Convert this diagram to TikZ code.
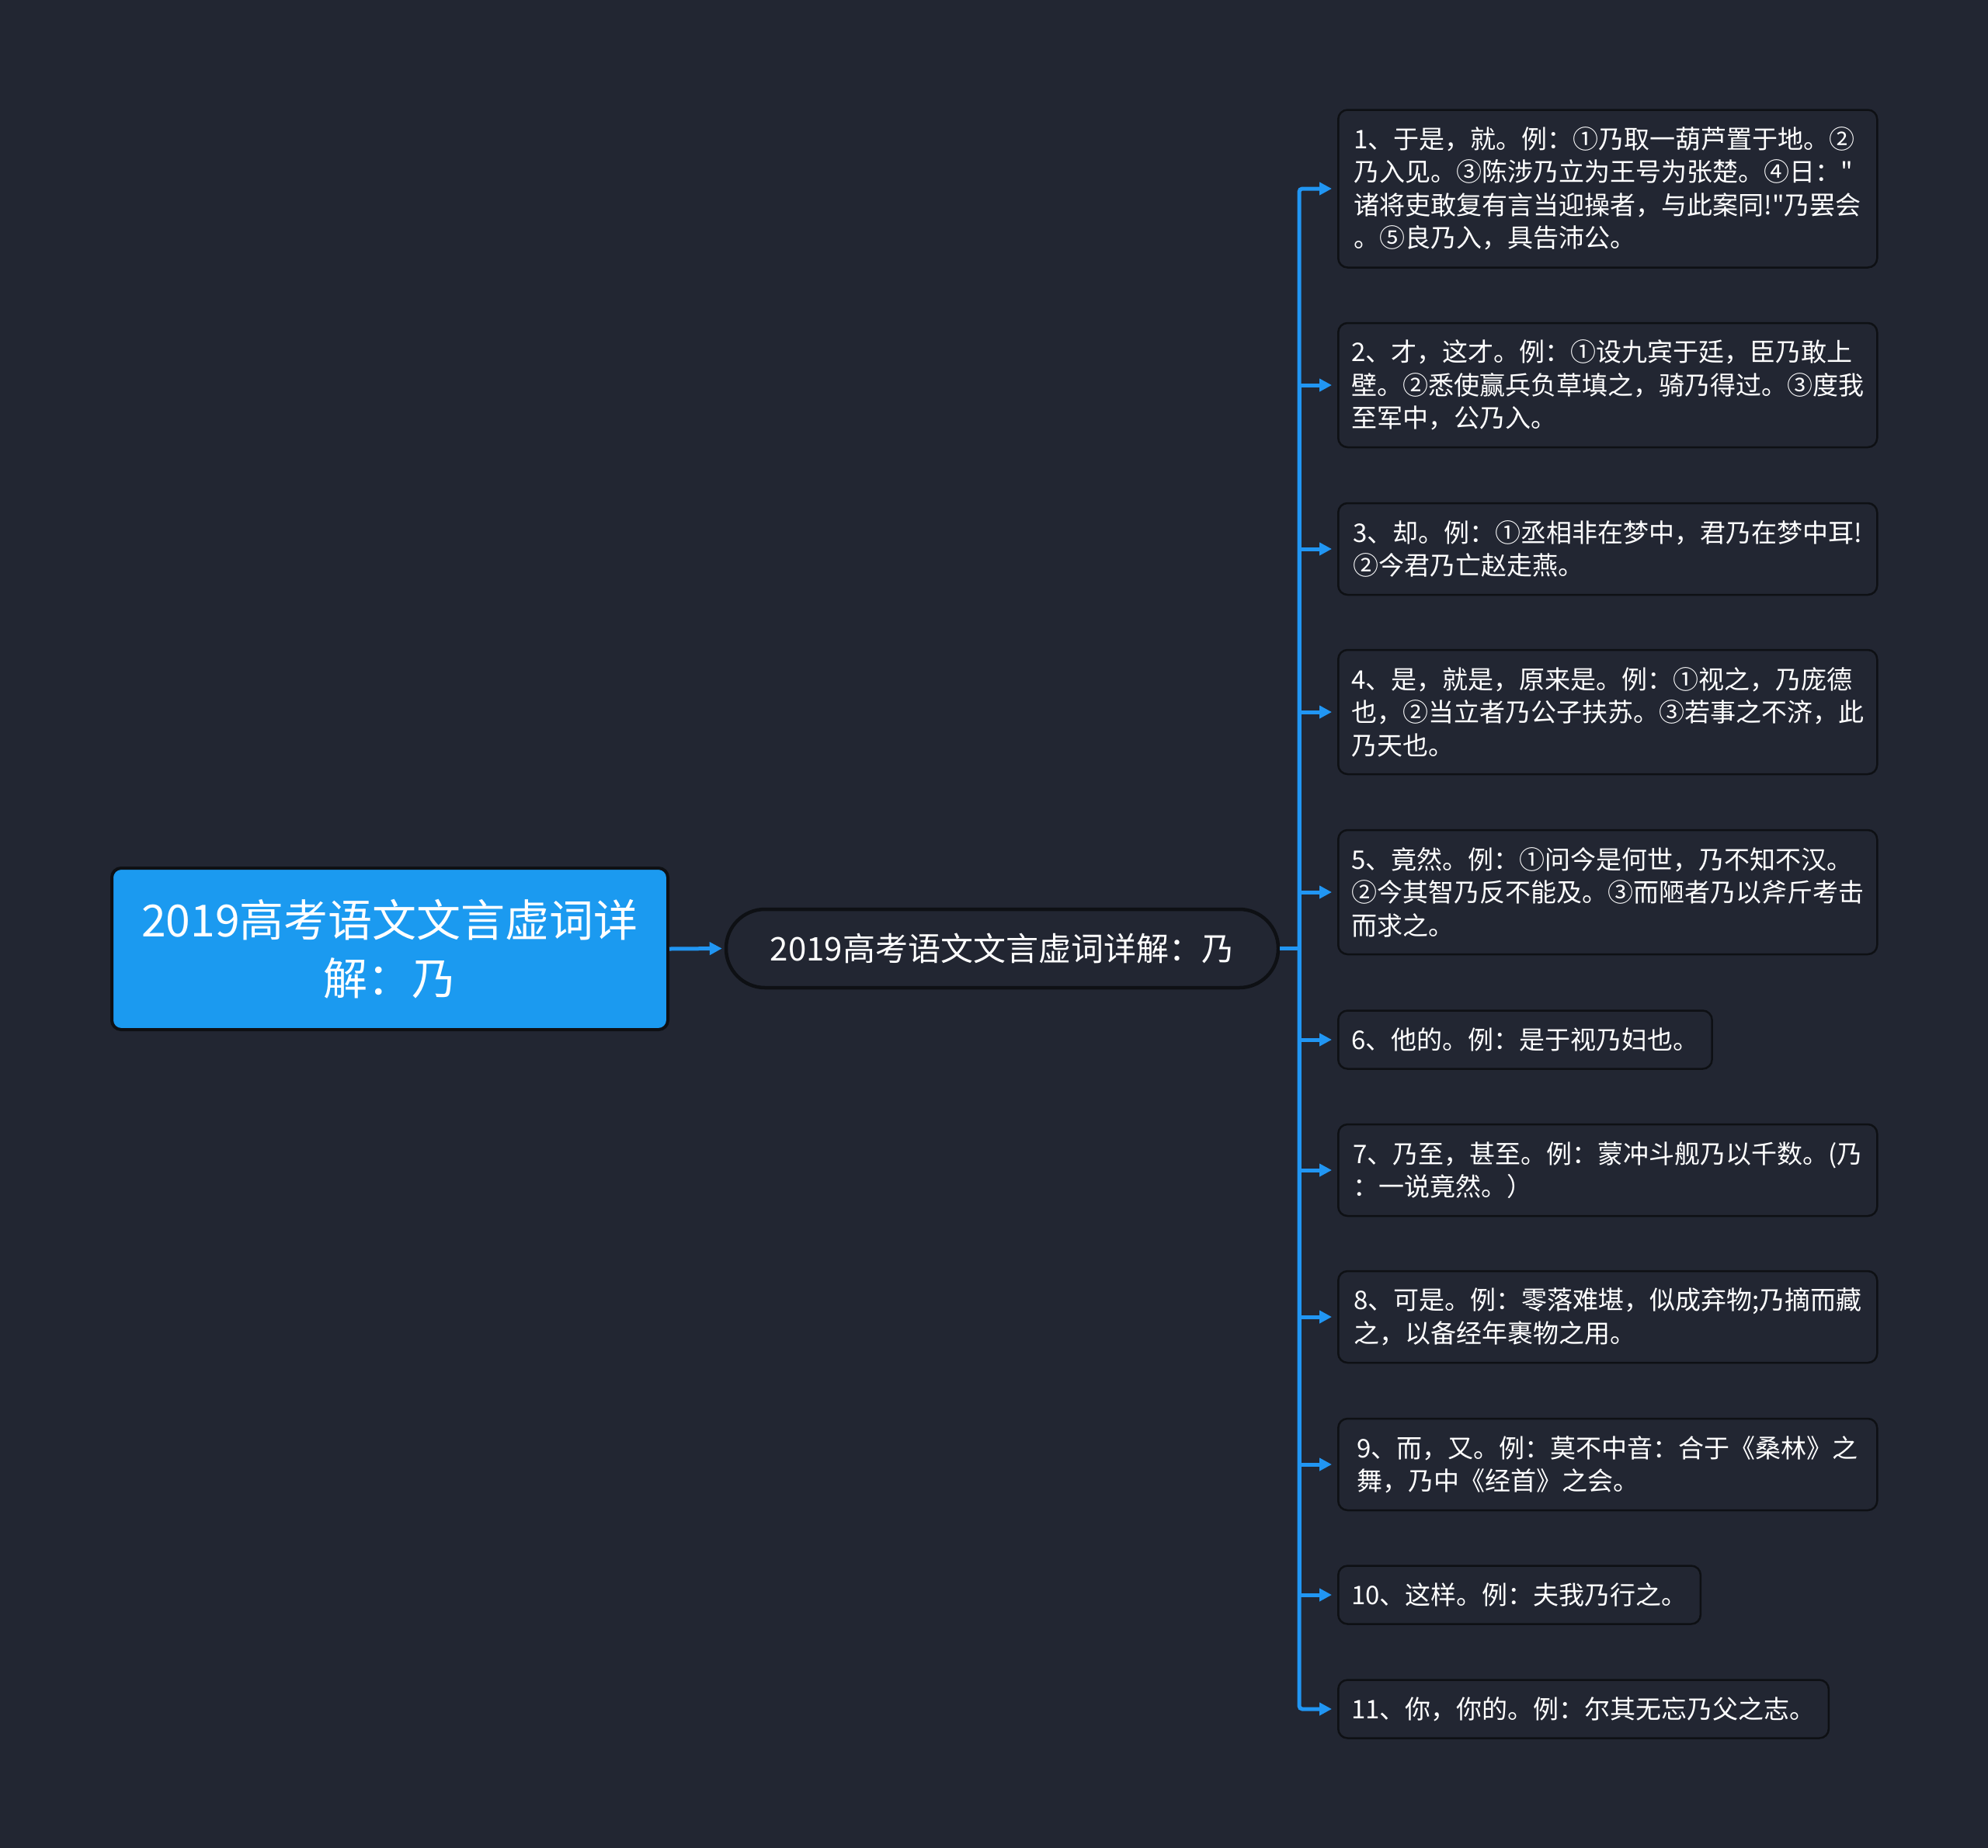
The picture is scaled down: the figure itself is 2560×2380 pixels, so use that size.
\documentclass[tikz,border=0pt]{standalone}
\usepackage{fontspec}
\newfontfamily\cjk{Noto Sans CJK SC}
\usetikzlibrary{arrows.meta}
\definecolor{bg}{RGB}{34,38,50}
\definecolor{rootblue}{RGB}{27,154,240}
\definecolor{conn}{RGB}{33,150,243}
\definecolor{edgedark}{RGB}{14,16,20}
\begin{document}
\begin{tikzpicture}[x=1pt,y=-1pt,
  leaf/.style={draw=edgedark, line width=2.5pt, fill=bg, rounded corners=12pt, anchor=west,
    align=left, inner xsep=17pt, inner ysep=0pt, text=white,
    font=\cjk\fontsize{33}{42.5}\selectfont},
  full/.style={minimum width=694pt},
  rootbox/.style={draw=edgedark, line width=4pt, fill=rootblue, rounded corners=12pt,
    minimum width=716pt, minimum height=208pt, align=center, text=white,
    font=\cjk\fontsize{57}{75}\selectfont},
  midbox/.style={draw=edgedark, line width=4.5pt, fill=bg, rounded corners=50pt,
    minimum width=711pt, minimum height=101pt, text=white,
    font=\cjk\fontsize{42}{50}\selectfont},
  link/.style={draw=conn, line width=5pt},
  arr/.style={-{Triangle[length=16pt,width=16pt]}}
]
\fill[bg] (0,0) rectangle (2560,2380);
\useasboundingbox (0,0) rectangle (2560,2380);

\node[rootbox] (root) at (502,1222) {2019高考语文文言虚词详\\解：乃};
\node[midbox] (mid) at (1290.5,1221.5) {2019高考语文文言虚词详解：乃};

\node[leaf,full,minimum height=203pt] (c1) at (1722,243) {1、于是，就。例：①乃取一葫芦置于地。②\\乃入见。③陈涉乃立为王号为张楚。④日："\\诸将吏敢复有言当迎操者，与此案同!"乃罢会\\。⑤良乃入，具告沛公。};
\node[leaf,full,minimum height=160pt] (c2) at (1722,496) {2、才，这才。例：①设九宾于廷，臣乃敢上\\壁。②悉使赢兵负草填之，骑乃得过。③度我\\至军中，公乃入。};
\node[leaf,full,minimum height=118pt] (c3) at (1722,707) {3、却。例：①丞相非在梦中，君乃在梦中耳!\\②今君乃亡赵走燕。};
\node[leaf,full,minimum height=160pt] (c4) at (1722,917) {4、是，就是，原来是。例：①视之，乃庞德\\也，②当立者乃公子扶苏。③若事之不济，此\\乃天也。};
\node[leaf,full,minimum height=160pt] (c5) at (1722,1149) {5、竟然。例：①问今是何世，乃不知不汉。\\②今其智乃反不能及。③而陋者乃以斧斤考击\\而求之。};
\node[leaf,minimum height=75pt] (c6) at (1722,1339) {6、他的。例：是于视乃妇也。};
\node[leaf,full,minimum height=118pt] (c7) at (1722,1507) {7、乃至，甚至。例：蒙冲斗舰乃以千数。(乃\\：一说竟然。）};
\node[leaf,full,minimum height=118pt] (c8) at (1722,1696) {8、可是。例：零落难堪，似成弃物;乃摘而藏\\之，以备经年裹物之用。};
\node[leaf,full,minimum height=118pt] (c9) at (1722,1886) {9、而，又。例：莫不中音：合于《桑林》之\\舞，乃中《经首》之会。};
\node[leaf,minimum height=75pt] (c10) at (1722,2054) {10、这样。例：夫我乃行之。};
\node[leaf,minimum height=75pt] (c11) at (1722,2201) {11、你，你的。例：尔其无忘乃父之志。};

\coordinate (trunk) at (1673,1221.5);
\draw[link,arr,shorten >=3pt] (root.east) -- (mid.west);
\draw[link] (mid.east) -- (trunk);
\draw[link,arr,shorten >=7pt,rounded corners=4pt] (trunk) |- (c1.west);
\foreach \c in {c2,c3,c4,c5,c6,c7,c8,c9,c10}
  \draw[link,arr,shorten >=7pt] (trunk) |- (\c.west);
\draw[link,arr,shorten >=7pt,rounded corners=4pt] (trunk) |- (c11.west);
\end{tikzpicture}
\end{document}
